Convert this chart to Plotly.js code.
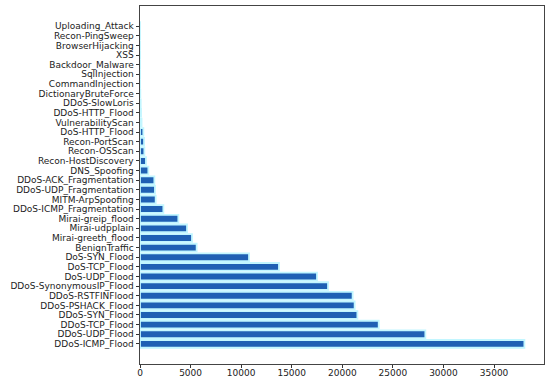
<!DOCTYPE html>
<html>
<head>
<meta charset="utf-8">
<script src="https://cdn.plot.ly/plotly-3.0.1.min.js"></script>
<style>html,body{margin:0;padding:0;background:#fff;}#chart{width:550px;height:382px;}</style>
</head>
<body>
<div id="chart"></div>
<script>
// Categories from bottom to top
const categories = [
  "DDoS-ICMP_Flood", "DDoS-UDP_Flood", "DDoS-TCP_Flood", "DDoS-SYN_Flood",
  "DDoS-PSHACK_Flood", "DDoS-RSTFINFlood", "DDoS-SynonymousIP_Flood",
  "DoS-UDP_Flood", "DoS-TCP_Flood", "DoS-SYN_Flood", "BenignTraffic",
  "Mirai-greeth_flood", "Mirai-udpplain", "Mirai-greip_flood",
  "DDoS-ICMP_Fragmentation", "MITM-ArpSpoofing", "DDoS-UDP_Fragmentation",
  "DDoS-ACK_Fragmentation", "DNS_Spoofing", "Recon-HostDiscovery",
  "Recon-OSScan", "Recon-PortScan", "DoS-HTTP_Flood", "VulnerabilityScan",
  "DDoS-HTTP_Flood", "DDoS-SlowLoris", "DictionaryBruteForce",
  "CommandInjection", "SqlInjection", "Backdoor_Malware", "XSS",
  "BrowserHijacking", "Recon-PingSweep", "Uploading_Attack"
];
const counts = [
  38000, 28210, 23600, 21490,
  21220, 21020, 18590,
  17500, 13740, 10780, 5600,
  5140, 4650, 3790,
  2310, 1550, 1480,
  1420, 825, 590,
  430, 400, 330, 150,
  100, 70, 30,
  10, 10, 8, 7,
  6, 4, 1
];
const xTickVals = [0, 5000, 10000, 15000, 20000, 25000, 30000, 35000];

const trace = {
  type: "bar",
  orientation: "h",
  x: counts,
  y: categories,
  marker: { color: "#1f60b4", line: { color: "#c2f6ff", width: 1.8 } },
  hoverinfo: "x+y"
};

const layout = {
  width: 550, height: 382,
  margin: { l: 140, r: 6, t: 6, b: 18 },
  paper_bgcolor: "#ffffff", plot_bgcolor: "#ffffff",
  showlegend: false,
  bargap: 0.2,
  font: { family: "DejaVu Sans, sans-serif", size: 9, color: "#222" },
  xaxis: {
    range: [0, 39940],
    tickmode: "array",
    tickvals: xTickVals,
    ticktext: xTickVals.map(String),
    ticks: "outside", ticklen: 3, tickcolor: "#333",
    ticklabelstandoff: -3,
    showline: true, linecolor: "#444", linewidth: 1, mirror: true,
    showgrid: false, zeroline: false,
    tickfont: { size: 9, color: "#222" }
  },
  yaxis: {
    type: "category",
    range: [-2.09, 35.09],
    tickmode: "array",
    tickvals: categories,
    ticktext: categories,
    ticks: "outside", ticklen: 3.5, tickcolor: "#333",
    showline: true, linecolor: "#444", linewidth: 1, mirror: true,
    showgrid: false, zeroline: false,
    tickfont: { size: 9, color: "#222" }
  }
};

Plotly.newPlot("chart", [trace], layout, { displayModeBar: false, staticPlot: true });
</script>
</body>
</html>
